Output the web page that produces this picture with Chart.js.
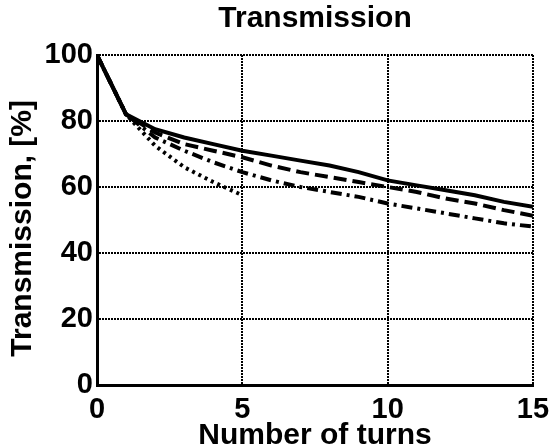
<!DOCTYPE html>
<html>
<head>
<meta charset="utf-8">
<script src="https://cdn.jsdelivr.net/npm/chart.js@4/dist/chart.umd.min.js"></script>
<style>
  html, body { margin: 0; padding: 0; background: #fff; }
  #wrap { width: 553px; height: 448px; }
</style>
</head>
<body>
<div id="wrap"><canvas id="transChart" width="553" height="448"></canvas></div>
<script>
const turns = [0, 1, 2, 3, 4, 5, 6, 7, 8, 9, 10, 11, 12, 13, 14, 15];
const solidVals = [100, 82, 77.5, 75, 73, 71, 69.5, 68, 66.5, 64.5, 62, 60.5, 59, 57.5, 55.5, 54];
const dashedVals = [100, 82, 76.5, 73, 71, 69, 66.5, 64.5, 63, 61.5, 60, 58.5, 56.5, 55, 53, 51.3];
const dashDotVals = [100, 82, 75, 71, 67.5, 64.5, 62, 60, 58.5, 57, 55, 53.5, 52, 50.5, 49, 48];
const dottedTurns = [0, 1, 2, 3, 4, 5];
const dottedVals = [100, 82, 72.5, 66, 61.5, 57.5];

const FONT = "'Liberation Sans', Arial, Helvetica, sans-serif";

function pts(xs, ys) {
  return xs.map((x, i) => ({ x: x, y: ys[i] }));
}

function series(xs, ys, dash) {
  return {
    data: pts(xs, ys),
    borderColor: "#000",
    borderWidth: 4,
    borderDash: dash,
    pointRadius: 0,
    tension: 0,
    fill: false,
  };
}

const ctx = document.getElementById("transChart").getContext("2d");

new Chart(ctx, {
  type: "line",
  data: {
    datasets: [
      series(turns, solidVals, []),
      series(turns, dashedVals, [13, 6]),
      series(turns, dashDotVals, [11, 5, 3, 5]),
      series(dottedTurns, dottedVals, [3, 4]),
    ],
  },
  options: {
    responsive: false,
    animation: false,
    layout: { padding: { left: 0, right: 20, top: 0, bottom: 0 } },
    plugins: {
      legend: { display: false },
      tooltip: { enabled: false },
      title: {
        display: true,
        fullSize: false,
        text: "Transmission",
        color: "#000",
        font: { family: FONT, size: 30, weight: "bold", lineHeight: 1 },
        padding: { top: 4, bottom: 21 },
      },
    },
    scales: {
      x: {
        type: "linear",
        min: 0,
        max: 15,
        afterFit: (s) => {
          s.height = 63;
          s.paddingLeft = 0;
          s.paddingRight = 0;
        },
        ticks: {
          stepSize: 5,
          color: "#000",
          padding: 10,
          font: { family: FONT, size: 29, weight: "bold", lineHeight: 1 },
        },
        grid: { color: "#000", lineWidth: 2, drawTicks: false },
        border: { display: true, color: "#000", width: 3, dash: [2, 1] },
        title: {
          display: true,
          text: "Number of turns",
          color: "#000",
          font: { family: FONT, size: 30, weight: "bold", lineHeight: 0.8 },
          padding: 0,
        },
      },
      y: {
        min: 0,
        max: 100,
        afterFit: (s) => {
          s.width = 97;
          s.paddingTop = 0;
          s.paddingBottom = 0;
        },
        ticks: {
          stepSize: 20,
          color: "#000",
          padding: 4,
          font: { family: FONT, size: 29, weight: "bold", lineHeight: 1 },
        },
        grid: { color: "#000", lineWidth: 2, drawTicks: false },
        border: { display: true, color: "#000", width: 3, dash: [2, 1] },
        title: {
          display: true,
          text: "Transmission, [%]  ",
          color: "#000",
          font: { family: FONT, size: 30, weight: "bold", lineHeight: 1 },
          padding: { top: 8, bottom: 0 },
        },
      },
    },
  },
});
</script>
</body>
</html>
